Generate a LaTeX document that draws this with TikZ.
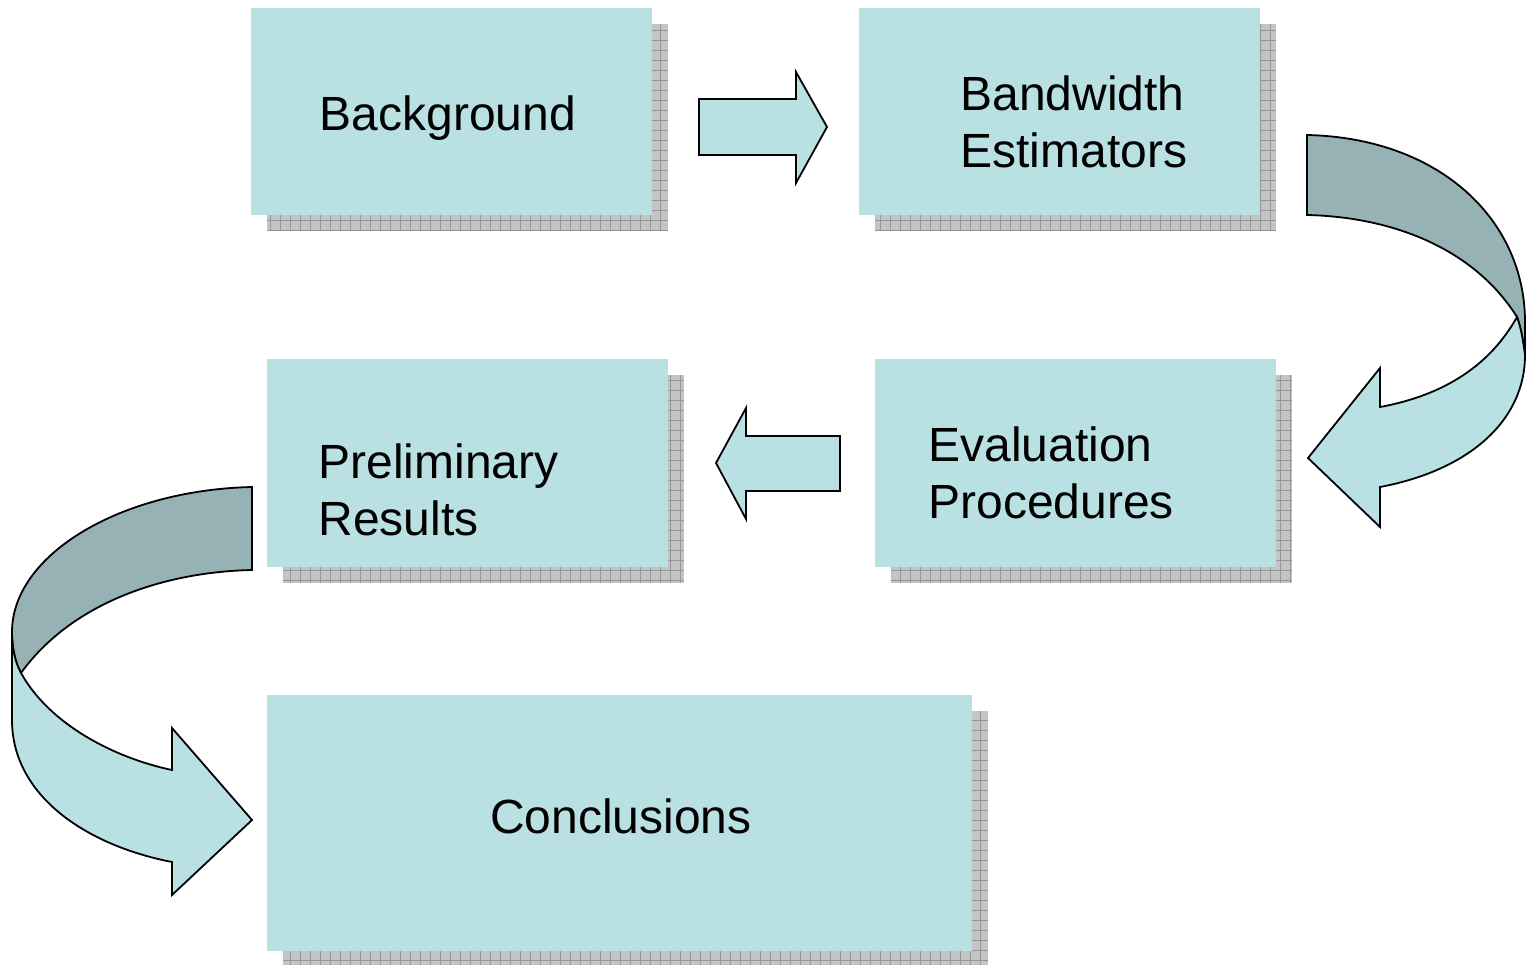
\documentclass[tikz,border=0pt]{standalone}
\usepackage{fontspec}
\setmainfont{Liberation Sans}
\usetikzlibrary{backgrounds,calc}
\definecolor{boxfill}{RGB}{185,224,227}
\definecolor{bandback}{RGB}{151,178,181}
\definecolor{shadowfill}{RGB}{196,196,196}
\definecolor{shadowgrid}{RGB}{150,150,150}
\tikzset{
  box/.style={fill=boxfill, draw=none, inner sep=0pt},
  boxtext/.style={font=\fontsize{24}{28.5}\selectfont, inner sep=0pt, align=left},
  shadowbox/.style={fill=shadowfill, path picture={\draw[shadowgrid, line width=0.4pt, step=5pt] (path picture bounding box.south west) grid (path picture bounding box.north east);}},
  blockarrow/.style={fill=boxfill, draw=black, line width=0.9pt, line join=miter},
  backband/.style={fill=bandback, draw=black, line width=0.9pt},
}
\begin{document}
\begin{tikzpicture}[x=0.5pt, y=-0.5pt]
\useasboundingbox (0,0) rectangle (1526,964);
% boxes
\node[box, minimum width=200.5pt, minimum height=103.5pt] (bg) at (451.5,111.5) {};
\node[box, minimum width=200.5pt, minimum height=103.5pt] (bw) at (1059.5,111.5) {};
\node[box, minimum width=200.5pt, minimum height=104pt] (pr) at (467.5,463) {};
\node[box, minimum width=200.5pt, minimum height=104pt] (ev) at (1075.5,463) {};
\node[box, minimum width=352.5pt, minimum height=128pt] (cc) at (619.5,823) {};
% shadows
\begin{scope}[on background layer]
\foreach \b in {bg,bw,pr,ev,cc}{
  \path[shadowbox] ([shift={(8pt,-8pt)}]\b.south west) rectangle ([shift={(8pt,-8pt)}]\b.north east);
}
\end{scope}
% texts
\node[boxtext, anchor=base] (tbg) at (448,130) {Background};
\node[boxtext, anchor=west] (tbw) at (960,122) {Bandwidth\\Estimators};
\node[boxtext, anchor=west] (tpr) at (318,490) {Preliminary\\Results};
\node[boxtext, anchor=west] (tev) at (928,473) {Evaluation\\Procedures};
\node[boxtext, anchor=base] (tcc) at (621,833) {Conclusions};
% straight block arrows
\draw[blockarrow] (699,99) -- (796,99) -- (796,72) -- (827,127) -- (796,183) -- (796,155) -- (699,155) -- cycle;
\draw[blockarrow] (840,436) -- (746,436) -- (746,408) -- (716,463) -- (746,519) -- (746,491) -- (840,491) -- cycle;
% right curved arrow
\draw[backband] (1307,135) .. controls (1440,138) and (1525,220) .. (1525,322) -- (1525,355)
  .. controls (1523,340) and (1521,328) .. (1517,317)
  .. controls (1475,250) and (1395,217) .. (1307,215) -- cycle;
\draw[blockarrow] (1517,317) .. controls (1490,365) and (1445,395) .. (1380,407)
  -- (1380,368) -- (1308,458) -- (1380,527) -- (1380,487)
  .. controls (1470,470) and (1525,420) .. (1525,355)
  .. controls (1523,340) and (1521,328) .. (1517,317) -- cycle;
% left curved arrow
\draw[backband] (252,487) .. controls (120,490) and (12,555) .. (12,632)
  .. controls (12,648) and (15,662) .. (21,673)
  .. controls (70,605) and (160,572) .. (252,570) -- cycle;
\draw[blockarrow] (12,632) -- (12,720) .. controls (12,795) and (85,845) .. (172,862)
  -- (172,895) -- (252,820) -- (172,728) -- (172,770)
  .. controls (115,758) and (50,725) .. (21,673)
  .. controls (15,662) and (12,648) .. (12,632) -- cycle;
\end{tikzpicture}
\end{document}
